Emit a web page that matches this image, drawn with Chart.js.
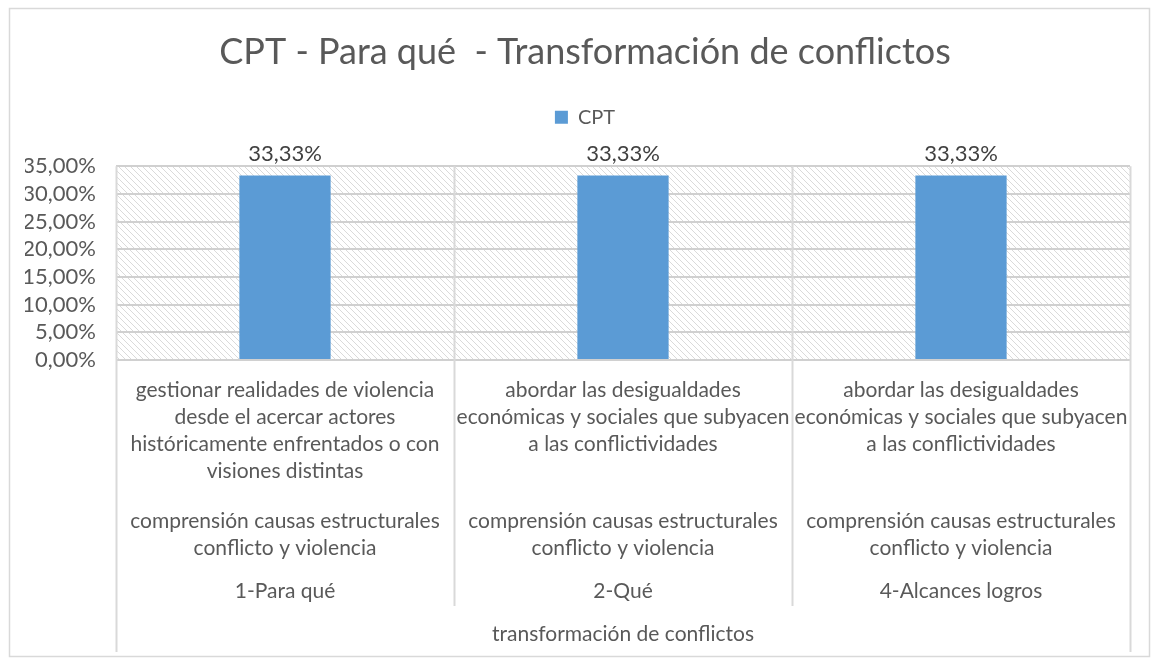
<!DOCTYPE html>
<html>
<head>
<meta charset="utf-8">
<script src="https://cdn.jsdelivr.net/npm/chart.js@4/dist/chart.umd.min.js"></script>
<style>
  html, body { margin: 0; padding: 0; background: #fff; }
  #wrap { width: 1155px; height: 659px; }
</style>
</head>
<body>
<div id="wrap"><canvas id="myChart" width="1155" height="659"></canvas></div>
<script>
// data
var seriesName = "CPT";
var level1 = [
  ["gestionar realidades de violencia", "desde el acercar actores", "históricamente enfrentados o con", "visiones distintas"],
  ["abordar las desigualdades", "económicas y sociales que subyacen", "a las conflictividades"],
  ["abordar las desigualdades", "económicas y sociales que subyacen", "a las conflictividades"]
];
var level2 = [
  ["comprensión causas estructurales", "conflicto y violencia"],
  ["comprensión causas estructurales", "conflicto y violencia"],
  ["comprensión causas estructurales", "conflicto y violencia"]
];
var level3 = ["1-Para qué", "2-Qué", "4-Alcances logros"];
var groupLabel = "transformación de conflictos";
var values = [0.3333, 0.3333, 0.3333];
var yTicks = [0, 0.05, 0.10, 0.15, 0.20, 0.25, 0.30, 0.35];

var FONT = "Lato, 'Open Sans', sans-serif";
var TXT = "#595959";
var LINE = "#d9d9d9";

function pct(v) {
  return (v * 100).toFixed(2).replace(".", ",") + "%";
}

// empty layout box, used to leave room (below legend, right of plot)
function spacer(pos, size) {
  return {
    position: pos,
    weight: 1,
    fullSize: false,
    options: {},
    isHorizontal: function() { return pos == "top" || pos == "bottom"; },
    update: function(w, h) {
      if (this.isHorizontal()) { this.width = w; this.height = size; }
      else { this.width = size; this.height = h; }
    },
    draw: function() {}
  };
}

// hatched plot background
function hatch() {
  var c = document.createElement("canvas");
  c.width = 6; c.height = 6;
  var g = c.getContext("2d");
  g.fillStyle = "#fff";
  g.fillRect(0, 0, 6, 6);
  g.strokeStyle = "#dadada";
  g.lineWidth = 1;
  g.beginPath();
  g.moveTo(-1, -1); g.lineTo(7, 7);
  g.moveTo(-1, 5); g.lineTo(1, 7);
  g.moveTo(5, -1); g.lineTo(7, 1);
  g.stroke();
  return g.createPattern(c, "repeat");
}

var excelPlugin = {
  id: "excel",
  beforeInit: function(chart) {
    Chart.layouts.addBox(chart, spacer("top", 29));
    Chart.layouts.addBox(chart, spacer("right", 15));
  },
  beforeDraw: function(chart) {
    var ctx = chart.ctx, a = chart.chartArea;
    ctx.save();
    ctx.fillStyle = hatch();
    ctx.fillRect(a.left, a.top, a.right - a.left, a.bottom - a.top);
    // outer frame
    ctx.strokeStyle = LINE;
    ctx.lineWidth = 1.5;
    ctx.strokeRect(9.5, 8.5, 1140, 648);
    ctx.restore();
  },
  afterDraw: function(chart) {
    var ctx = chart.ctx, a = chart.chartArea, x = chart.scales.x;
    var n = level3.length;
    var w = (a.right - a.left) / n;
    ctx.save();
    ctx.strokeStyle = LINE;
    ctx.lineWidth = 2;
    ctx.beginPath();
    for (var i = 0; i <= n; i++) {
      var lx = Math.round(a.left + i * w) + 0.5;
      ctx.moveTo(lx, a.top);
      ctx.lineTo(lx, (i == 0 || i == n) ? a.bottom + 292 : a.bottom + 246);
    }
    ctx.stroke();

    ctx.fillStyle = TXT;
    ctx.textAlign = "center";
    ctx.textBaseline = "middle";
    ctx.font = "21px " + FONT;
    for (var i = 0; i < n; i++) {
      var cx = x.getPixelForValue(i);
      level1[i].forEach(function(t, k) { ctx.fillText(t, cx, a.bottom + 30 + k * 27); });
      level2[i].forEach(function(t, k) { ctx.fillText(t, cx, a.bottom + 161 + k * 27); });
      ctx.fillText(level3[i], cx, a.bottom + 231);
    }
    ctx.fillText(groupLabel, (a.left + a.right) / 2, a.bottom + 274);

    // data labels
    ctx.fillStyle = "#404040";
    ctx.font = "22px " + FONT;
    var meta = chart.getDatasetMeta(0);
    meta.data.forEach(function(bar, i) {
      ctx.fillText(pct(values[i]), bar.x, bar.y - 22);
    });
    ctx.restore();
  }
};

var ctx = document.getElementById("myChart").getContext("2d");
var myChart = new Chart(ctx, {
  type: "bar",
  data: {
    labels: level3,
    datasets: [{
      label: seriesName,
      data: values,
      backgroundColor: "#5B9BD5",
      borderWidth: 0,
      barPercentage: 0.27,
      categoryPercentage: 1
    }]
  },
  options: {
    responsive: false,
    animation: false,
    layout: { padding: { left: 25, right: 10, top: 0, bottom: 9 } },
    plugins: {
      title: {
        display: true,
        text: "CPT - Para qué  - Transformación de conflictos",
        color: TXT,
        font: { family: FONT, size: 36, weight: "normal" },
        padding: { top: 31, bottom: 25 }
      },
      legend: {
        display: true,
        labels: {
          color: TXT,
          font: { family: FONT, size: 20 },
          boxWidth: 13,
          boxHeight: 13,
          padding: 8
        }
      },
      tooltip: { enabled: false }
    },
    scales: {
      x: {
        grid: { display: false },
        border: { display: false },
        ticks: { display: false },
        afterFit: function(s) { s.height = 290; }
      },
      y: {
        min: 0,
        max: 0.35,
        afterBuildTicks: function(s) { s.ticks = yTicks.map(function(v) { return { value: v }; }); },
        afterFit: function(s) { s.width = 91; },
        grid: { color: "#d0d0d0", lineWidth: 2, drawTicks: false },
        border: { display: false },
        ticks: {
          color: TXT,
          padding: 20,
          autoSkip: false,
          font: { family: FONT, size: 22, lineHeight: 1 },
          callback: function(v) { return pct(v); }
        }
      }
    }
  },
  plugins: [excelPlugin]
});
</script>
</body>
</html>
